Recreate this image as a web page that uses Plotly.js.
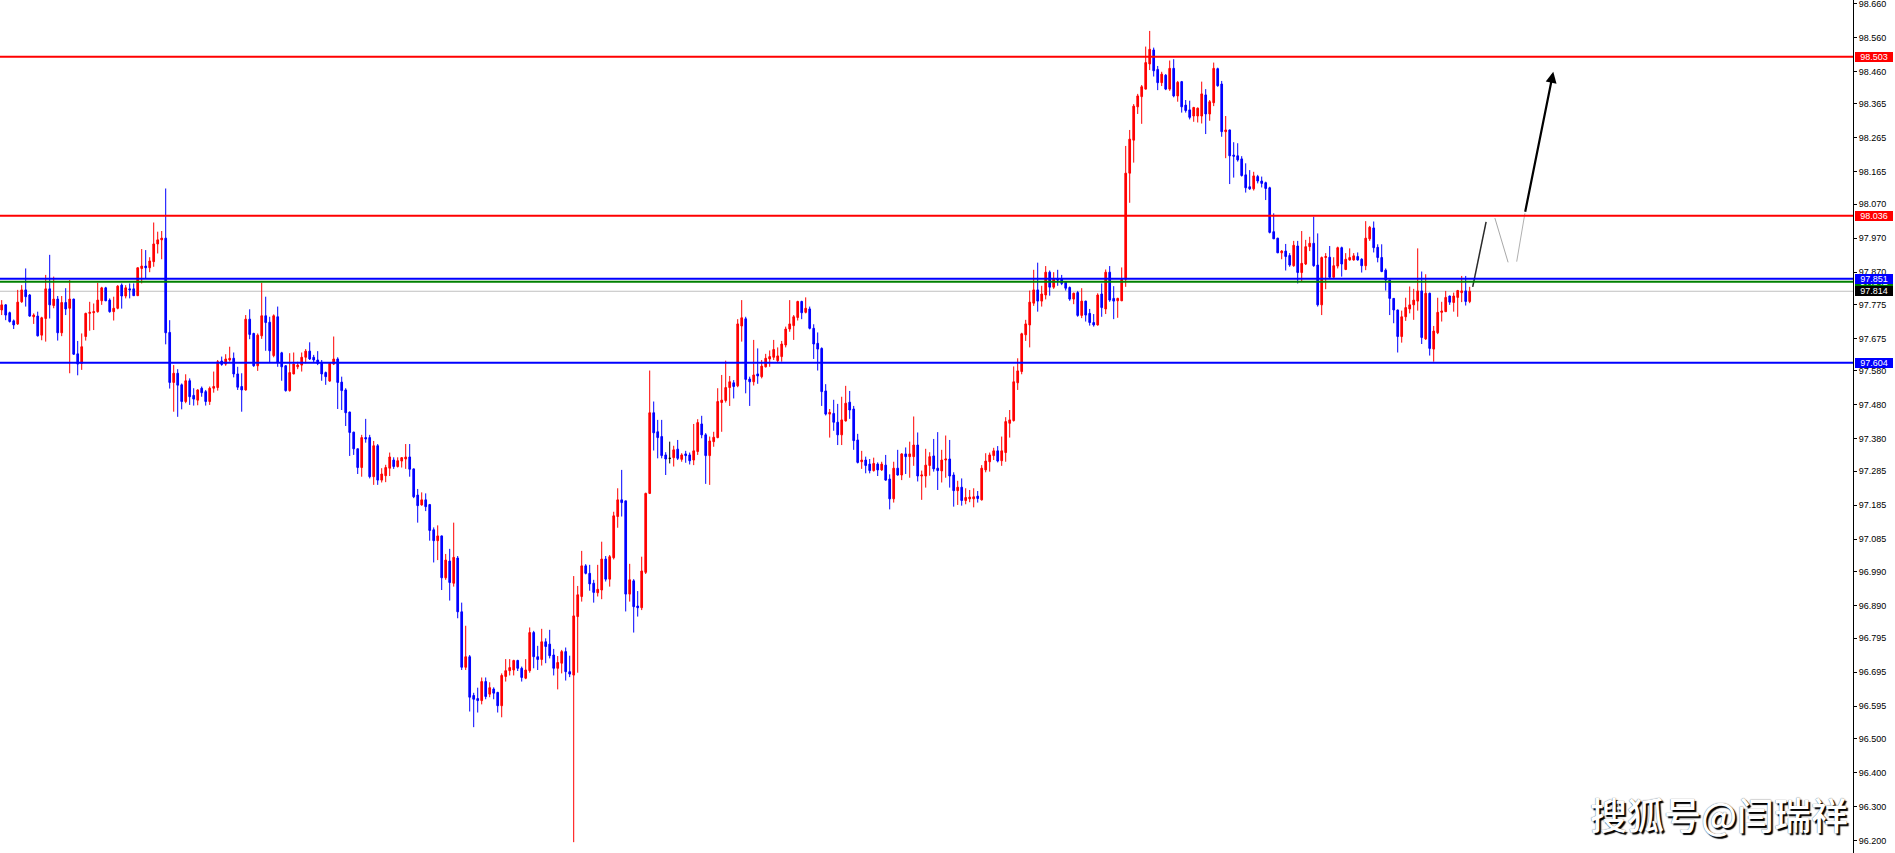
<!DOCTYPE html>
<html><head><meta charset="utf-8">
<script src="https://cdn.plot.ly/plotly-3.0.1.min.js"></script>
<style>html,body{margin:0;padding:0;background:#fff;overflow:hidden}#chart{width:1895px;height:853px}</style>
</head><body><div id="chart"></div>
<script>
const openP = [
97.759,97.774,97.751,97.727,97.718,97.783,97.818,97.803,97.739,97.741,
97.685,97.734,97.821,97.772,97.791,97.692,97.781,97.764,97.791,97.630,
97.602,97.681,97.749,97.751,97.754,97.786,97.824,97.788,97.754,97.764,
97.832,97.800,97.821,97.821,97.801,97.881,97.888,97.883,97.901,97.953,
97.965,97.970,97.693,97.546,97.573,97.539,97.490,97.551,97.508,97.494,
97.529,97.519,97.490,97.529,97.531,97.609,97.600,97.612,97.617,97.571,
97.534,97.524,97.732,97.690,97.595,97.683,97.742,97.723,97.625,97.739,
97.633,97.595,97.522,97.571,97.592,97.597,97.620,97.638,97.620,97.612,
97.605,97.575,97.550,97.600,97.615,97.547,97.524,97.459,97.400,97.351,
97.296,97.384,97.384,97.269,97.360,97.259,97.272,97.294,97.318,97.299,
97.315,97.321,97.327,97.292,97.215,97.186,97.201,97.187,97.113,97.081,
97.095,96.972,97.021,96.956,97.030,96.872,96.709,96.740,96.626,96.617,
96.611,96.667,96.630,96.645,96.635,96.596,96.682,96.699,96.701,96.729,
96.706,96.677,96.699,96.811,96.740,96.732,96.784,96.777,96.745,96.706,
96.721,96.755,96.696,96.686,96.858,96.917,97.007,96.985,96.956,96.928,
96.936,97.027,96.968,97.031,97.152,97.201,97.198,96.924,96.963,96.889,
96.884,96.988,97.220,97.457,97.401,97.387,97.333,97.323,97.325,97.350,
97.320,97.336,97.333,97.318,97.343,97.424,97.392,97.331,97.372,97.384,
97.487,97.493,97.531,97.545,97.536,97.712,97.733,97.556,97.548,97.571,
97.563,97.592,97.615,97.620,97.610,97.622,97.656,97.703,97.713,97.737,
97.784,97.752,97.762,97.705,97.661,97.646,97.521,97.453,97.455,97.429,
97.392,97.433,97.488,97.468,97.377,97.313,97.318,97.306,97.287,97.306,
97.289,97.303,97.262,97.204,97.294,97.274,97.336,97.328,97.328,97.362,
97.271,97.271,97.302,97.330,97.294,97.286,97.318,97.321,97.274,97.228,
97.238,97.199,97.204,97.204,97.212,97.201,97.289,97.313,97.331,97.345,
97.316,97.340,97.426,97.434,97.545,97.578,97.686,97.715,97.779,97.818,
97.785,97.803,97.870,97.826,97.850,97.850,97.840,97.825,97.791,97.810,
97.743,97.785,97.749,97.722,97.715,97.806,97.762,97.870,97.793,97.786,
97.786,97.849,98.161,98.258,98.356,98.386,98.408,98.482,98.523,98.466,
98.427,98.449,98.408,98.469,98.388,98.430,98.361,98.347,98.329,98.329,
98.329,98.391,98.335,98.368,98.468,98.423,98.283,98.288,98.214,98.212,
98.203,98.156,98.121,98.115,98.151,98.138,98.133,98.118,97.989,97.970,
97.927,97.932,97.919,97.889,97.947,97.869,97.894,97.945,97.955,97.891,
97.774,97.913,97.914,97.855,97.888,97.942,97.878,97.906,97.906,97.916,
97.908,97.889,97.968,98.000,97.943,97.913,97.876,97.847,97.793,97.759,
97.681,97.739,97.762,97.774,97.785,97.815,97.674,97.808,97.644,97.692,
97.752,97.754,97.800,97.781,97.796,97.810,97.815,97.784];
const highP = [
97.788,97.776,97.754,97.731,97.818,97.832,97.881,97.806,97.749,97.754,
97.739,97.862,97.921,97.857,97.800,97.800,97.823,97.847,97.792,97.668,
97.690,97.751,97.783,97.778,97.839,97.827,97.827,97.793,97.798,97.832,
97.837,97.832,97.837,97.837,97.884,97.938,97.935,97.914,98.016,97.989,
97.991,98.116,97.729,97.597,97.585,97.543,97.570,97.558,97.529,97.526,
97.534,97.524,97.534,97.578,97.612,97.622,97.629,97.651,97.634,97.592,
97.573,97.744,97.761,97.692,97.690,97.839,97.798,97.739,97.746,97.769,
97.636,97.597,97.632,97.634,97.607,97.634,97.644,97.664,97.627,97.638,
97.612,97.578,97.604,97.681,97.620,97.563,97.529,97.460,97.401,97.352,
97.392,97.439,97.392,97.374,97.365,97.294,97.304,97.340,97.326,97.326,
97.326,97.365,97.365,97.293,97.233,97.223,97.220,97.189,97.120,97.126,
97.096,97.042,97.057,97.134,97.036,96.899,96.831,96.745,96.634,96.649,
96.679,96.679,96.665,96.650,96.637,96.691,96.733,96.733,96.731,96.731,
96.711,96.733,96.826,96.816,96.772,96.822,96.794,96.819,96.763,96.742,
96.760,96.767,96.743,96.977,96.948,97.051,97.012,97.010,96.966,97.010,
97.078,97.036,97.039,97.166,97.235,97.289,97.198,97.013,96.968,96.933,
97.034,97.222,97.581,97.490,97.436,97.436,97.341,97.372,97.360,97.377,
97.338,97.345,97.340,97.424,97.438,97.448,97.397,97.387,97.401,97.529,
97.568,97.610,97.565,97.553,97.732,97.788,97.739,97.563,97.671,97.646,
97.612,97.630,97.640,97.671,97.649,97.668,97.710,97.788,97.744,97.786,
97.786,97.796,97.769,97.717,97.693,97.649,97.541,97.468,97.495,97.483,
97.504,97.536,97.521,97.477,97.395,97.345,97.328,97.321,97.325,97.311,
97.313,97.333,97.276,97.313,97.348,97.338,97.355,97.372,97.446,97.399,
97.287,97.351,97.341,97.380,97.400,97.348,97.390,97.377,97.282,97.257,
97.264,97.235,97.230,97.235,97.227,97.303,97.338,97.340,97.354,97.359,
97.387,97.444,97.465,97.593,97.617,97.692,97.730,97.816,97.877,97.898,
97.830,97.888,97.875,97.870,97.877,97.862,97.842,97.828,97.810,97.815,
97.823,97.786,97.762,97.747,97.808,97.837,97.878,97.888,97.829,97.795,
97.884,98.241,98.288,98.364,98.394,98.420,98.533,98.579,98.530,98.476,
98.459,98.452,98.492,98.496,98.432,98.432,98.376,98.374,98.356,98.354,
98.430,98.408,98.376,98.486,98.471,98.432,98.329,98.289,98.252,98.249,
98.211,98.190,98.170,98.165,98.156,98.151,98.136,98.121,98.043,97.971,
97.935,97.953,97.926,97.962,97.962,97.991,97.965,97.974,98.033,97.984,
97.916,97.926,97.947,97.914,97.945,97.945,97.926,97.940,97.926,97.928,
97.911,98.020,98.006,98.019,97.952,97.952,97.881,97.848,97.794,97.760,
97.757,97.795,97.828,97.821,97.940,97.872,97.864,97.810,97.712,97.795,
97.783,97.815,97.801,97.810,97.818,97.859,97.859,97.827];
const lowP = [
97.744,97.729,97.722,97.703,97.715,97.780,97.769,97.739,97.718,97.681,
97.670,97.666,97.734,97.764,97.669,97.682,97.744,97.573,97.627,97.567,
97.583,97.669,97.698,97.700,97.751,97.774,97.785,97.751,97.728,97.761,
97.763,97.793,97.793,97.800,97.800,97.837,97.852,97.870,97.886,97.925,
97.908,97.658,97.528,97.460,97.445,97.467,97.485,97.480,97.478,97.479,
97.504,97.478,97.480,97.516,97.522,97.595,97.595,97.607,97.561,97.524,
97.460,97.522,97.673,97.592,97.580,97.674,97.639,97.605,97.620,97.592,
97.551,97.519,97.519,97.570,97.585,97.578,97.602,97.612,97.605,97.597,
97.551,97.539,97.548,97.597,97.468,97.465,97.418,97.330,97.333,97.277,
97.269,97.369,97.264,97.245,97.245,97.252,97.253,97.271,97.292,97.296,
97.296,97.292,97.269,97.206,97.134,97.184,97.168,97.081,97.017,97.024,
96.936,96.966,96.905,96.946,96.853,96.701,96.701,96.579,96.533,96.576,
96.600,96.615,96.621,96.615,96.576,96.562,96.667,96.685,96.685,96.698,
96.667,96.674,96.693,96.706,96.701,96.714,96.721,96.735,96.685,96.644,
96.691,96.670,96.680,96.195,96.693,96.902,96.982,96.934,96.899,96.917,
96.909,96.961,96.946,97.026,97.119,97.152,96.873,96.902,96.811,96.858,
96.877,96.983,97.218,97.346,97.323,97.323,97.274,97.308,97.299,97.318,
97.313,97.310,97.305,97.303,97.333,97.382,97.248,97.245,97.357,97.382,
97.401,97.487,97.477,97.499,97.532,97.666,97.514,97.477,97.537,97.542,
97.558,97.590,97.592,97.612,97.604,97.607,97.649,97.695,97.671,97.728,
97.732,97.749,97.702,97.615,97.581,97.477,97.449,97.384,97.404,97.362,
97.362,97.431,97.439,97.348,97.308,97.292,97.279,97.279,97.284,97.271,
97.286,97.257,97.173,97.193,97.272,97.259,97.277,97.266,97.301,97.255,
97.201,97.237,97.272,97.284,97.230,97.252,97.266,97.237,97.181,97.186,
97.184,97.188,97.194,97.179,97.193,97.199,97.282,97.284,97.318,97.311,
97.301,97.313,97.384,97.431,97.524,97.570,97.668,97.649,97.771,97.754,
97.769,97.790,97.801,97.821,97.830,97.832,97.816,97.786,97.776,97.739,
97.735,97.725,97.713,97.710,97.713,97.739,97.747,97.783,97.732,97.736,
97.785,97.827,98.074,98.192,98.335,98.306,98.407,98.464,98.445,98.405,
98.417,98.405,98.403,98.384,98.371,98.339,98.339,98.319,98.312,98.310,
98.307,98.276,98.315,98.358,98.415,98.268,98.205,98.129,98.148,98.195,
98.151,98.104,98.112,98.110,98.131,98.119,98.082,97.984,97.968,97.926,
97.908,97.875,97.886,97.886,97.837,97.842,97.891,97.932,97.886,97.769,
97.744,97.820,97.852,97.852,97.881,97.857,97.876,97.904,97.904,97.904,
97.869,97.876,97.962,97.928,97.899,97.870,97.816,97.744,97.720,97.634,
97.663,97.727,97.749,97.730,97.757,97.659,97.671,97.625,97.607,97.688,
97.725,97.754,97.774,97.754,97.739,97.782,97.772,97.779];
const closeP = [
97.774,97.744,97.725,97.715,97.782,97.818,97.798,97.741,97.744,97.683,
97.736,97.821,97.774,97.791,97.692,97.781,97.762,97.791,97.629,97.600,
97.651,97.749,97.752,97.754,97.788,97.824,97.786,97.754,97.764,97.829,
97.800,97.824,97.818,97.801,97.883,97.888,97.883,97.903,97.953,97.965,
97.970,97.692,97.546,97.573,97.538,97.490,97.551,97.504,97.497,97.524,
97.516,97.490,97.529,97.534,97.607,97.599,97.615,97.617,97.571,97.532,
97.524,97.732,97.687,97.595,97.685,97.742,97.722,97.639,97.742,97.605,
97.592,97.522,97.575,97.600,97.597,97.620,97.638,97.615,97.612,97.602,
97.571,97.563,97.602,97.615,97.546,97.522,97.457,97.399,97.351,97.296,
97.384,97.380,97.269,97.360,97.259,97.277,97.296,97.327,97.299,97.316,
97.325,97.327,97.291,97.210,97.184,97.201,97.181,97.111,97.081,97.095,
96.972,97.024,96.958,97.032,96.872,96.709,96.740,96.621,96.615,96.611,
96.667,96.623,96.649,96.633,96.596,96.685,96.699,96.708,96.729,96.706,
96.679,96.701,96.811,96.740,96.732,96.784,96.770,96.743,96.706,96.723,
96.755,96.696,96.689,96.860,96.922,97.007,96.985,96.954,96.929,96.938,
97.027,96.968,97.034,97.154,97.201,97.193,96.924,96.966,96.887,96.884,
96.992,97.220,97.457,97.398,97.384,97.331,97.321,97.323,97.348,97.323,
97.333,97.331,97.316,97.345,97.428,97.392,97.331,97.374,97.385,97.490,
97.494,97.531,97.548,97.534,97.718,97.736,97.555,97.548,97.568,97.565,
97.594,97.617,97.622,97.643,97.624,97.659,97.703,97.718,97.739,97.784,
97.751,97.764,97.705,97.659,97.644,97.519,97.453,97.458,97.429,97.392,
97.436,97.485,97.465,97.375,97.311,97.318,97.302,97.287,97.308,97.289,
97.306,97.259,97.204,97.294,97.274,97.336,97.328,97.336,97.362,97.271,
97.274,97.303,97.328,97.292,97.287,97.318,97.321,97.271,97.228,97.238,
97.199,97.208,97.209,97.210,97.205,97.294,97.315,97.333,97.345,97.315,
97.345,97.431,97.436,97.548,97.580,97.689,97.718,97.782,97.818,97.785,
97.806,97.870,97.826,97.850,97.847,97.837,97.823,97.791,97.808,97.743,
97.785,97.744,97.722,97.715,97.803,97.766,97.870,97.788,97.785,97.793,
97.849,98.161,98.261,98.358,98.388,98.415,98.486,98.525,98.462,98.427,
98.452,98.408,98.469,98.388,98.428,98.356,98.345,98.325,98.354,98.352,
98.394,98.335,98.371,98.469,98.418,98.283,98.288,98.212,98.211,98.200,
98.154,98.118,98.115,98.153,98.138,98.131,98.116,97.987,97.968,97.927,
97.932,97.916,97.891,97.949,97.869,97.896,97.945,97.955,97.889,97.774,
97.913,97.916,97.855,97.889,97.942,97.894,97.908,97.913,97.918,97.906,
97.889,97.970,98.002,97.942,97.913,97.872,97.847,97.793,97.759,97.681,
97.739,97.766,97.774,97.788,97.815,97.678,97.808,97.646,97.697,97.752,
97.756,97.796,97.782,97.800,97.816,97.815,97.784,97.814];

const tickLabels = ['98.660','98.560','98.460','98.365','98.265','98.165','98.070','97.970','97.870','97.775',
  '97.675','97.580','97.480','97.380','97.285','97.185','97.085','96.990','96.890','96.795',
  '96.695','96.595','96.500','96.400','96.300','96.200'];

// horizontal levels
const levelValues = [98.503, 98.036, 97.842, 97.851, 97.604];
const levelColors = ['#FF0000', '#FF0000', '#008000', '#0000FF', '#0000FF'];
const currentPrice = 97.814;

// price tags on the axis (drawn in this order; later ones on top)
const tagValues = [98.503, 98.036, 97.842, 97.851, 97.814, 97.604];
const tagColors = ['#FF0000', '#FF0000', '#008000', '#0000FF', '#000000', '#0000FF'];

// hand-drawn projection path (bar index, price)
const projUp1X = [367.75, 371.1], projUp1Y = [97.827, 98.018];
const projDownX = [373.3, 376.6], projDownY = [98.029, 97.899];
const projUp2X = [378.75, 380.8, 387.9], projUp2Y = [97.901, 98.043, 98.459];

const watermark = '搜狐号@闫瑞祥';

const barIndex = openP.map((_, i) => i);
const mainIdx = barIndex.filter(i => openP[i] !== closeP[i]);
const dojiIdx = barIndex.filter(i => openP[i] === closeP[i]);
const pick = (arr, idx) => idx.map(i => arr[i]);

const traces = [
  {
    type: 'candlestick',
    x: pick(barIndex, mainIdx), open: pick(openP, mainIdx), high: pick(highP, mainIdx),
    low: pick(lowP, mainIdx), close: pick(closeP, mainIdx),
    increasing: {line: {color: '#FF0000', width: 1}, fillcolor: '#FF0000'},
    decreasing: {line: {color: '#0000FF', width: 1}, fillcolor: '#0000FF'},
    whiskerwidth: 0, hoverinfo: 'skip', showlegend: false
  },
  {
    type: 'candlestick',
    x: pick(barIndex, dojiIdx), open: pick(openP, dojiIdx), high: pick(highP, dojiIdx),
    low: pick(lowP, dojiIdx), close: pick(closeP, dojiIdx),
    increasing: {line: {color: '#000000', width: 1}, fillcolor: '#000000'},
    decreasing: {line: {color: '#000000', width: 1}, fillcolor: '#000000'},
    whiskerwidth: 0, hoverinfo: 'skip', showlegend: false
  },
  {type: 'scatter', mode: 'lines', x: projUp1X, y: projUp1Y, line: {color: '#2a2a2a', width: 1.5},
   hoverinfo: 'skip', showlegend: false, cliponaxis: false},
  {type: 'scatter', mode: 'lines', x: projDownX, y: projDownY, line: {color: '#a8a8a8', width: 1},
   hoverinfo: 'skip', showlegend: false, cliponaxis: false},
  {type: 'scatter', mode: 'lines', x: projUp2X.slice(0, 2), y: projUp2Y.slice(0, 2), line: {color: '#b0b0b0', width: 1},
   hoverinfo: 'skip', showlegend: false, cliponaxis: false}
];

const shapes = [
  {type: 'line', xref: 'paper', x0: 0, x1: 1, yref: 'y', y0: currentPrice, y1: currentPrice,
   line: {color: '#C0C0C0', width: 1}, layer: 'below'}
].concat(levelValues.map((v, k) => ({
  type: 'line', xref: 'paper', x0: 0, x1: 1, yref: 'y', y0: v, y1: v,
  line: {color: levelColors[k], width: 2}, layer: 'above'
})));

const annotations = tagValues.map((v, k) => ({
  xref: 'paper', x: 1, xanchor: 'left', xshift: 2,
  yref: 'y', y: v, yanchor: 'middle',
  text: v.toFixed(3), showarrow: false,
  bgcolor: tagColors[k], borderwidth: 0, borderpad: 0,
  width: 38, height: 10, align: 'center',
  font: {family: 'Liberation Sans, Arial, sans-serif', size: 9, color: '#FFFFFF'}
}));

annotations.push({
  xref: 'x', yref: 'y', x: projUp2X[2], y: projUp2Y[2],
  axref: 'x', ayref: 'y', ax: projUp2X[1], ay: projUp2Y[1],
  showarrow: true, arrowhead: 2, arrowsize: 1, arrowwidth: 2.2, arrowcolor: '#000000', text: ''
});

annotations.push({
  xref: 'paper', yref: 'paper', x: 0.9277, y: 0.0457, xanchor: 'center', yanchor: 'middle',
  text: watermark, showarrow: false,
  font: {family: 'Noto Sans CJK SC, sans-serif', size: 37, color: '#FFFFFF', weight: 500,
         shadow: '2px 2px 1px #000, 0px 0px 1px #444'}
});

const layout = {
  width: 1895, height: 853,
  margin: {l: 0, r: 42, t: 0, b: 0},
  paper_bgcolor: '#FFFFFF', plot_bgcolor: '#FFFFFF',
  showlegend: false, hovermode: false, dragmode: false,
  boxgap: 0.4,
  xaxis: {range: [-0.425, 462.825], visible: false, showgrid: false, zeroline: false,
          rangeslider: {visible: false}, fixedrange: true},
  yaxis: {side: 'right', range: [96.1632, 98.6699],
          tickmode: 'array', tickvals: tickLabels.map(Number), ticktext: tickLabels,
          ticks: 'outside', ticklen: 3, tickwidth: 1, tickcolor: '#000000',
          ticklabeloverflow: 'allow',
          showline: true, linecolor: '#000000', linewidth: 1,
          showgrid: false, zeroline: false, fixedrange: true,
          tickfont: {family: 'Liberation Sans, Arial, sans-serif', size: 9, color: '#000000'}},
  shapes: shapes,
  annotations: annotations
};

Plotly.newPlot('chart', traces, layout, {staticPlot: true, displayModeBar: false});
</script>
</body></html>
